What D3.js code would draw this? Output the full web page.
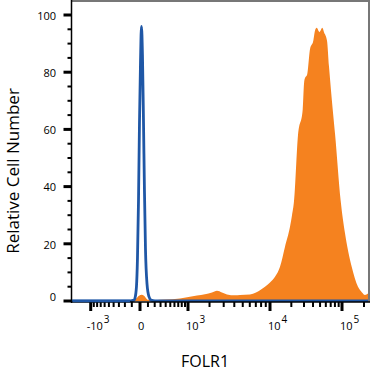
<!DOCTYPE html>
<html>
<head>
<meta charset="utf-8">
<script src="https://cdn.jsdelivr.net/npm/d3@7"></script>
<style>
  body { margin: 0; background: #fff; }
  svg { display: block; font-family: "Open Sans", "Noto Sans", sans-serif; }
</style>
</head>
<body>
<div id="chart"></div>
<script>
// isotype control (blue line): [FOLR1 value, relative count]
const controlValues = [-1900, -125, -72, -59, -41, -29, -17, -6, 6, 17, 29, 42, 54, 67, 87, 114, 143, 205, 250000];
const controlCounts = [0, 0, 0.3, 1, 5, 15, 35, 62, 84, 96, 86, 62, 38, 18, 6, 1.5, 0.3, 0, 0];

// stained cells (orange fill)
const stainedValues = [-1900, -198, -84, -47, -11, 20, 48, 74, 100, 205, 386, 749, 1358, 1745, 2151, 2485, 2861, 3284,
    4076, 4652, 6032, 7032, 7780, 8825, 10000, 11785, 13870, 16310, 19165, 20440, 21795, 24770, 28790, 30015, 30985,
    33025, 36330, 40350, 42575, 44940, 49110, 53650, 56650, 62300, 66350, 74600, 80200, 96000, 109950, 135750,
    165500, 187750, 206300, 226750, 241450];
const stainedCounts = [0, 0, 0.2, 0.8, 1.8, 2.2, 1.8, 1, 0.4, 0.3, 0.5, 0.9, 1.9, 2.4, 3.0, 3.6, 3.0, 2.3,
    2.0, 2.1, 2.3, 3.0, 3.8, 5.0, 6.5, 8.5, 12, 19, 26, 30, 35, 58, 67, 76, 78,
    79, 88, 91, 94.5, 95.5, 94, 95.5, 94, 91, 82, 67, 58.6, 35, 23.7, 12,
    5, 3, 2.1, 2.6, 3.3];

// axis ticks
const xMajor = [-1000, 0, 1000, 10000, 100000];
const xMajorLabels = [["-10", "3"], ["0", ""], ["10", "3"], ["10", "4"], ["10", "5"]];
const xMinor = [-900, -800, -700, -600, -500, -400, -300, -200, -100, 100, 200, 300, 400, 500, 600, 700, 800, 900,
    2000, 3000, 4000, 5000, 6000, 7000, 8000, 9000,
    20000, 30000, 40000, 50000, 60000, 70000, 80000, 90000, 200000];
const yMajor = [0, 20, 40, 60, 80, 100];
const yMinor = [5, 10, 15, 25, 30, 35, 45, 50, 55, 65, 70, 75, 85, 90, 95];

const width = 370, height = 372;
const plotLeft = 71.5, plotRight = 369, plotTop = 1, plotBottom = 302;

const svg = d3.select('#chart').append('svg')
    .attr('width', width)
    .attr('height', height);

// biexponential-like display: symlog, pinned at the decade ticks
const x = d3.scaleSymlog()
    .constant(500)
    .domain([-1000, 0, 1000, 10000, 100000])
    .range([90.7, 140, 188, 270, 342]);

const y = d3.scaleLinear()
    .domain([0, 100])
    .range([301, 15]);

svg.append('clipPath').attr('id', 'plot-clip')
    .append('rect')
    .attr('x', plotLeft).attr('y', plotTop)
    .attr('width', plotRight - plotLeft).attr('height', plotBottom - plotTop);

const plot = svg.append('g').attr('clip-path', 'url(#plot-clip)');

const stained = stainedValues.map((v, i) => ({v: v, c: stainedCounts[i]}));
const control = controlValues.map((v, i) => ({v: v, c: controlCounts[i]}));

const area = d3.area()
    .x(d => x(d.v))
    .y0(y(0))
    .y1(d => y(d.c))
    .curve(d3.curveMonotoneX);

plot.append('path')
    .datum(stained)
    .attr('d', area)
    .attr('fill', '#f5821f');

const line = d3.line()
    .x(d => x(d.v))
    .y(d => y(d.c))
    .curve(d3.curveMonotoneX);

plot.append('path')
    .datum(control)
    .attr('d', line)
    .attr('fill', 'none')
    .attr('stroke', '#1f57a6')
    .attr('stroke-width', 2.8);

// frame: top and right in gray
svg.append('line')
    .attr('x1', plotLeft).attr('x2', width).attr('y1', 1).attr('y2', 1)
    .attr('stroke', '#777').attr('stroke-width', 2);
svg.append('line')
    .attr('x1', plotRight).attr('x2', plotRight).attr('y1', 0).attr('y2', plotBottom)
    .attr('stroke', '#777').attr('stroke-width', 2);

// x axis ticks
const xAxis = svg.append('g');
xAxis.selectAll('line.minor')
    .data(xMinor)
    .join('line')
    .attr('class', 'minor')
    .attr('x1', d => x(d)).attr('x2', d => x(d))
    .attr('y1', plotBottom).attr('y2', plotBottom + 5)
    .attr('stroke', '#000').attr('stroke-width', 2);
xAxis.selectAll('line.major')
    .data(xMajor)
    .join('line')
    .attr('class', 'major')
    .attr('x1', d => x(d)).attr('x2', d => x(d))
    .attr('y1', plotBottom).attr('y2', plotBottom + 9)
    .attr('stroke', '#000').attr('stroke-width', 3);

const xLabels = xAxis.selectAll('text')
    .data(xMajor)
    .join('text')
    .attr('x', (d, i) => x(d) - (i === 0 ? 4 : 2))
    .attr('y', 330)
    .attr('font-size', 11)
    .attr('fill', '#000');
xLabels.append('tspan').text((d, i) => xMajorLabels[i][0]);
xLabels.append('tspan')
    .attr('dy', -7)
    .attr('dx', 1)
    .attr('font-size', 10)
    .text((d, i) => xMajorLabels[i][1]);

// y axis ticks
const yAxis = svg.append('g');
yAxis.selectAll('line.minor')
    .data(yMinor)
    .join('line')
    .attr('class', 'minor')
    .attr('x1', plotLeft - 4).attr('x2', plotLeft)
    .attr('y1', d => y(d)).attr('y2', d => y(d))
    .attr('stroke', '#000').attr('stroke-width', 2);
yAxis.selectAll('line.major')
    .data(yMajor)
    .join('line')
    .attr('class', 'major')
    .attr('x1', plotLeft - 8).attr('x2', plotLeft)
    .attr('y1', d => y(d)).attr('y2', d => y(d))
    .attr('stroke', '#000').attr('stroke-width', 3);
yAxis.selectAll('text')
    .data(yMajor)
    .join('text')
    .attr('x', 56)
    .attr('y', d => d === 0 ? y(d) - 4 : y(d) + 1)
    .attr('dy', '0.35em')
    .attr('text-anchor', 'end')
    .attr('font-size', 11)
    .attr('fill', '#000')
    .text(d => d);

// axis lines
svg.append('line')
    .attr('x1', plotLeft).attr('x2', plotLeft).attr('y1', 0).attr('y2', plotBottom + 1)
    .attr('stroke', '#000').attr('stroke-width', 1.5);
svg.append('line')
    .attr('x1', plotLeft).attr('x2', width).attr('y1', plotBottom).attr('y2', plotBottom)
    .attr('stroke', '#000').attr('stroke-width', 1.5);

// blue baseline sits on top of the axis
svg.append('line')
    .attr('x1', plotLeft + 1).attr('x2', x(-125)).attr('y1', y(0)).attr('y2', y(0))
    .attr('stroke', '#1f57a6').attr('stroke-width', 2.6);

// titles
svg.append('text')
    .attr('transform', 'translate(19,171) rotate(-90)')
    .attr('text-anchor', 'middle')
    .attr('font-size', 17)
    .attr('fill', '#000')
    .text('Relative Cell Number');

svg.append('text')
    .attr('x', 205)
    .attr('y', 367)
    .attr('text-anchor', 'middle')
    .attr('font-size', 16)
    .attr('fill', '#000')
    .text('FOLR1');
</script>
</body>
</html>
